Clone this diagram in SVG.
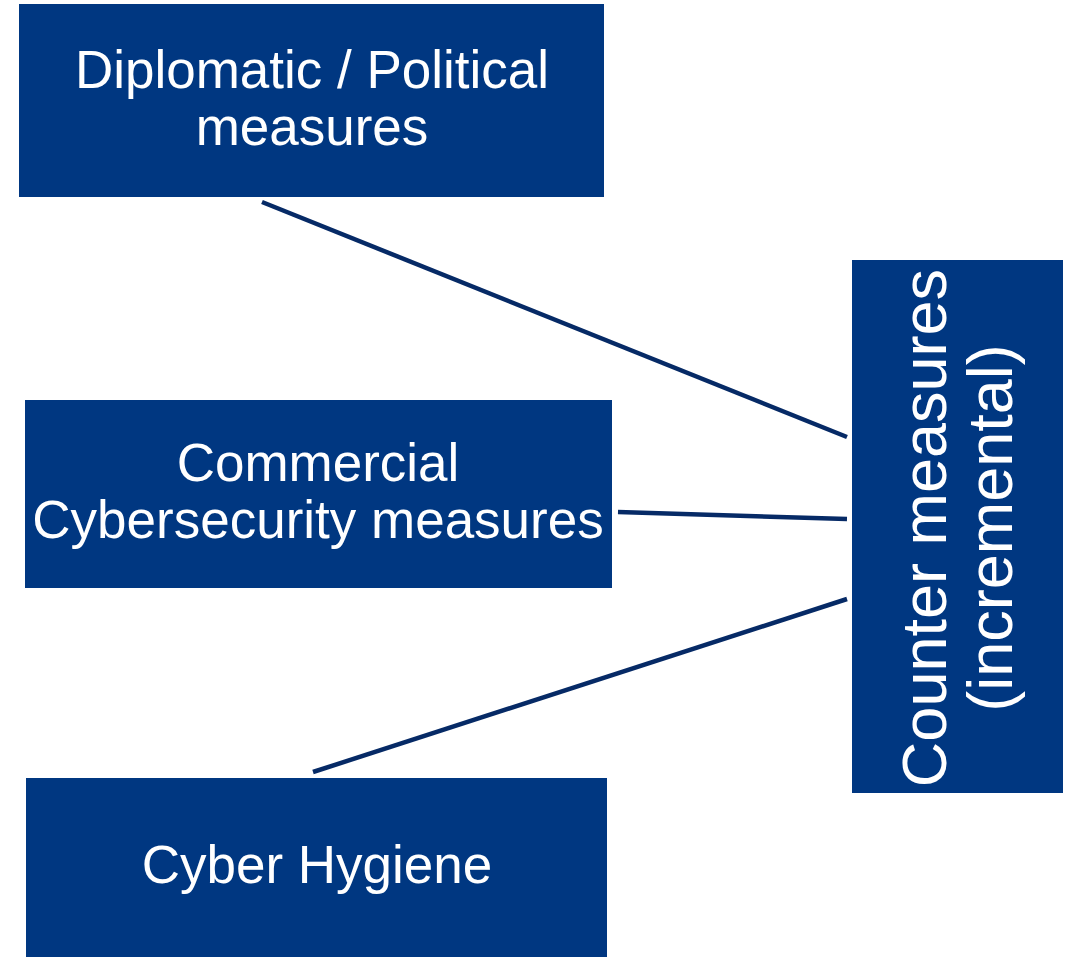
<svg xmlns="http://www.w3.org/2000/svg" width="1069" height="957" viewBox="0 0 1069 957">
  <style>
    .box { fill: #003781; }
    .label { fill: #ffffff; font-family: "Liberation Sans", Arial, sans-serif; font-size: 53px; text-anchor: middle; }
    .vlabel { font-size: 63px; }
    .link { stroke: #062a66; stroke-width: 4.5; fill: none; stroke-linecap: butt; }
  </style>
  <rect width="1069" height="957" fill="#ffffff"/>

  <!-- connectors into the counter-measures column -->
  <g id="connectors">
    <line class="link" x1="262" y1="202" x2="847" y2="437"/>
    <line class="link" x1="618" y1="512" x2="847" y2="519"/>
    <line class="link" x1="313" y1="772" x2="847" y2="599"/>
  </g>

  <g id="diplomatic">
    <rect class="box" x="19" y="4" width="585" height="193"/>
    <text class="label" x="312" y="88">Diplomatic / Political</text>
    <text class="label" x="312" y="145">measures</text>
  </g>

  <g id="commercial">
    <rect class="box" x="25" y="400" width="587" height="188"/>
    <text class="label" x="318" y="481">Commercial</text>
    <text class="label" x="318" y="538">Cybersecurity measures</text>
  </g>

  <g id="hygiene">
    <rect class="box" x="26" y="778" width="581" height="185"/>
    <text class="label" x="317" y="883">Cyber Hygiene</text>
  </g>

  <g id="counter">
    <rect class="box" x="852" y="260" width="211" height="533"/>
    <g transform="translate(946,528) rotate(-90)">
      <text class="label vlabel" x="0" y="0">Counter measures</text>
      <text class="label vlabel" x="0" y="66">(incremental)</text>
    </g>
  </g>
</svg>
